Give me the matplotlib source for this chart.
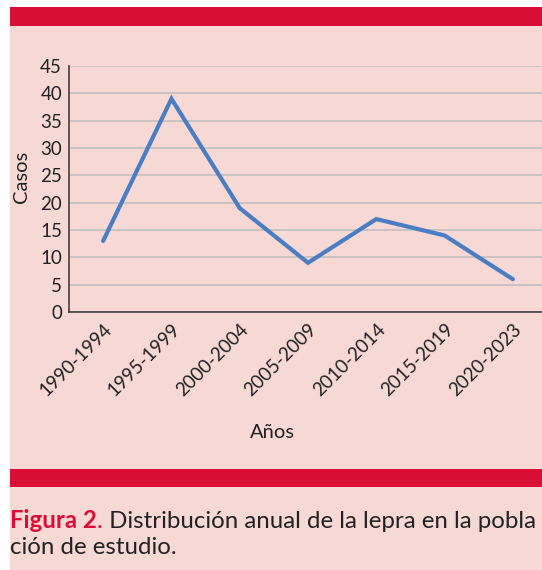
import matplotlib
matplotlib.use("Agg")
import matplotlib.pyplot as plt
from matplotlib.patches import Rectangle

categories = ["1990-1994", "1995-1999", "2000-2004", "2005-2009",
              "2010-2014", "2015-2019", "2020-2023"]
casos = [13, 39, 19, 9, 17, 14, 6]
yticks = [0, 5, 10, 15, 20, 25, 30, 35, 40, 45]

W, H = 542, 570
DPI = 100
plt.rcParams['font.family'] = ['Lato', 'DejaVu Sans']

fig = plt.figure(figsize=(W / DPI, H / DPI), dpi=DPI, facecolor='white')

def fx(x):
    return x / W

def fy(y):
    return 1 - y / H

PINK = '#F6D8D4'
RED = '#D90F37'
LINE = '#4A7DC2'
TXT = '#222222'

# background panels
fig.patches.append(Rectangle((fx(10), 0), 1 - fx(10), fy(7), transform=fig.transFigure,
                             facecolor=PINK, edgecolor='none', zorder=-10))
fig.patches.append(Rectangle((fx(10), fy(26)), 1 - fx(10), fy(7) - fy(26), transform=fig.transFigure,
                             facecolor=RED, edgecolor='none', zorder=-9))
fig.patches.append(Rectangle((fx(10), fy(487)), 1 - fx(10), fy(469) - fy(487), transform=fig.transFigure,
                             facecolor=RED, edgecolor='none', zorder=-9))

left, right, top, bottom = 69, 547, 66, 312
ax = fig.add_axes([fx(left), fy(bottom), fx(right) - fx(left), fy(top) - fy(bottom)])
ax.set_zorder(5)
ax.set_facecolor('none')
x = list(range(len(categories)))
ax.plot(x, casos, color=LINE, lw=3.0, solid_capstyle='round', solid_joinstyle='miter', zorder=3)
ax.set_xlim(-0.5, len(categories) - 0.5)
ax.set_ylim(0, 45)
ax.set_yticks(yticks)
ax.set_yticklabels([str(v) for v in yticks], fontsize=13.5, color=TXT)
ax.set_xticks(x)
ax.set_xticklabels(categories, rotation=45, ha='right', rotation_mode='anchor',
                   fontsize=13.5, color=TXT)
ax.tick_params(axis='both', length=0)
ax.tick_params(axis='y', pad=5)
ax.tick_params(axis='x', pad=6)
ax.grid(axis='y', color='#BDBDBD', lw=1.1, zorder=1)
ax.set_axisbelow(True)
for s in ['top', 'right']:
    ax.spines[s].set_visible(False)
for s in ['left', 'bottom']:
    ax.spines[s].set_color('#333333')
    ax.spines[s].set_linewidth(1.1)

fig.text(fx(22), fy(177), 'Casos', rotation=90, ha='center', va='center',
         fontsize=14.5, color=TXT)
fig.text(fx(272), fy(432), 'Años', ha='center', va='center', fontsize=14.5, color=TXT)

# caption with mixed colours
fig.canvas.draw()
r = fig.canvas.get_renderer()
cap_size = 17.3
t1 = fig.text(fx(10), fy(528), 'Figura 2', color=RED, fontweight='bold', fontsize=cap_size,
              ha='left', va='baseline')
bb = t1.get_window_extent(r)
t2 = fig.text(bb.x1 / W, fy(528), '.', color=RED, fontsize=cap_size, ha='left', va='baseline')
bb2 = t2.get_window_extent(r)
fig.text(bb2.x1 / W, fy(528), ' Distribución anual de la lepra en la pobla', color=TXT,
         fontsize=cap_size, ha='left', va='baseline')
fig.text(fx(10), fy(554), 'ción de estudio.', color=TXT, fontsize=cap_size,
         ha='left', va='baseline')

fig.savefig('out.png', dpi=DPI, facecolor='white')
